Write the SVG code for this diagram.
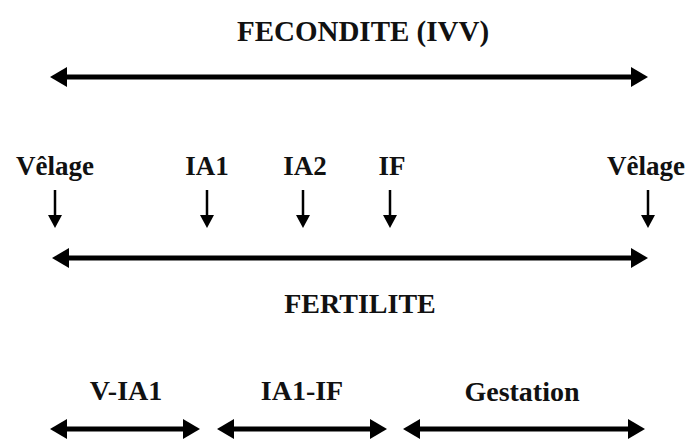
<svg xmlns="http://www.w3.org/2000/svg" width="687" height="441" viewBox="0 0 687 441">
<style>
text{font-family:'Liberation Serif','Times New Roman','DejaVu Serif',serif;font-weight:700;fill:#111;text-anchor:middle;font-size:27px}
text.t29{font-size:29px}
text.t28{font-size:28px}
.big{stroke:#000;stroke-width:5;fill:none}
.small{stroke:#000;stroke-width:2.5;fill:none}
</style>
<defs>
<marker id="bh" markerUnits="userSpaceOnUse" markerWidth="17" markerHeight="20" refX="2" refY="10" orient="auto-start-reverse" viewBox="0 0 17 20">
<path d="M0,0 L17,10 L0,20 z" fill="#000"/>
</marker>
<marker id="sh" markerUnits="userSpaceOnUse" markerWidth="13" markerHeight="14" refX="2" refY="7" orient="auto" viewBox="0 0 13 14">
<path d="M0,0 L13,7 L0,14 z" fill="#000"/>
</marker>
</defs>
<rect width="687" height="441" fill="#fff"/>
<g id="fecondite"><text class="t29" x="363" y="41">FECONDITE (IVV)</text></g>
<g id="velage1"><text x="55" y="175">Vêlage</text></g>
<g id="ia1"><text x="207" y="175">IA1</text></g>
<g id="ia2"><text x="305" y="175">IA2</text></g>
<g id="if"><text x="392" y="175">IF</text></g>
<g id="velage2"><text x="646" y="175">Vêlage</text></g>
<g id="fertilite"><text class="t28" x="360" y="313">FERTILITE</text></g>
<g id="v-ia1"><text class="t28" x="126" y="400">V-IA1</text></g>
<g id="ia1-if"><text class="t28" x="302" y="400">IA1-IF</text></g>
<g id="gestation"><text class="t28" x="522" y="401">Gestation</text></g>
<g id="connectors">
<line class="big" x1="65" y1="77" x2="633" y2="77" marker-start="url(#bh)" marker-end="url(#bh)"/>
<line class="big" x1="67" y1="258" x2="633" y2="258" marker-start="url(#bh)" marker-end="url(#bh)"/>
<line class="big" x1="65" y1="429" x2="185" y2="429" marker-start="url(#bh)" marker-end="url(#bh)"/>
<line class="big" x1="232" y1="429" x2="372" y2="429" marker-start="url(#bh)" marker-end="url(#bh)"/>
<line class="big" x1="418" y1="429" x2="630" y2="429" marker-start="url(#bh)" marker-end="url(#bh)"/>
<line class="small" x1="55" y1="190" x2="55" y2="217" marker-end="url(#sh)"/>
<line class="small" x1="207" y1="190" x2="207" y2="217" marker-end="url(#sh)"/>
<line class="small" x1="303" y1="190" x2="303" y2="217" marker-end="url(#sh)"/>
<line class="small" x1="390" y1="190" x2="390" y2="217" marker-end="url(#sh)"/>
<line class="small" x1="648" y1="190" x2="648" y2="217" marker-end="url(#sh)"/>
</g>
</svg>
